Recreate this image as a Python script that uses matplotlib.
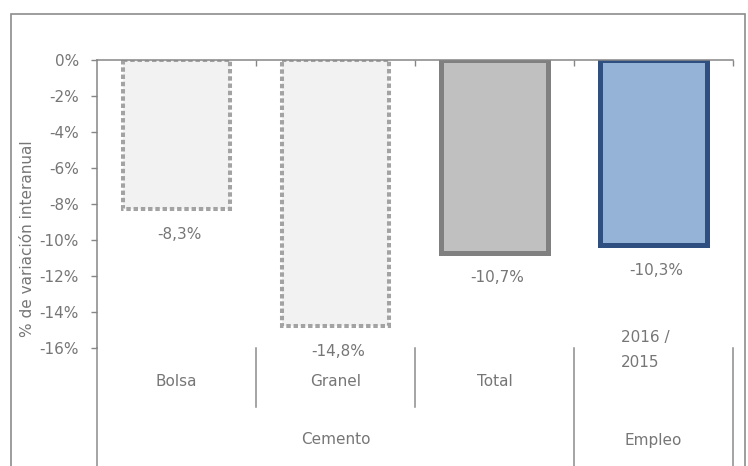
import matplotlib
matplotlib.use("Agg")
import matplotlib.pyplot as plt
from matplotlib.patches import Rectangle
from matplotlib.ticker import FuncFormatter, FixedLocator

# ---- data ----
categories = ["Bolsa", "Granel", "Total", "2016 /\n2015"]
groups = ["Cemento", "Empleo"]
group_spans = [(0, 2), (3, 3)]  # category index ranges
values = [-8.3, -14.8, -10.7, -10.3]
y_ticks = [0, -2, -4, -6, -8, -10, -12, -14, -16]
y_label = "% de variación interanual"

# ---- styles ----
TXT = "#767676"
fills = ["#f2f2f2", "#f2f2f2", "#c0c0c0", "#95b3d7"]
edges = ["#a3a3a3", "#a3a3a3", "#808080", "#2e4f80"]
styles = [(0, (1.1, 0.7)), (0, (1.1, 0.7)), "solid", "solid"]
ewidths = [2.9, 2.9, 3.6, 3.6]
FS = 11
plt.rcParams["font.family"] = ["DejaVu Sans"]

W, H = 748, 466
fig = plt.figure(figsize=(W / 100, H / 100), dpi=100)
ax_l, ax_r, ax_t, ax_b = 97, 733, 60, 348
ax = fig.add_axes([ax_l / W, 1 - ax_b / H, (ax_r - ax_l) / W, (ax_b - ax_t) / H])

x = list(range(len(values)))
bars = ax.bar(x, values, width=0.67, color=fills, zorder=2)
for b, ec, ls, lw in zip(bars, edges, styles, ewidths):
    b.set_edgecolor(ec)
    b.set_linestyle(ls)
    b.set_linewidth(lw)
    b.set_capstyle("butt")
    b.set_joinstyle("miter")

ax.set_xlim(-0.5, len(values) - 0.5)
ax.set_ylim(min(y_ticks), 0)

# value labels
for xi, v in zip(x, values):
    ax.annotate(f"{v:.1f}%".replace(".", ","), xy=(xi, v), xytext=(2, -18),
                textcoords="offset points", ha="center", va="center",
                fontsize=FS, color=TXT, annotation_clip=False)

# spines / ticks
for s in ["right", "bottom"]:
    ax.spines[s].set_visible(False)
for s in ["top", "left"]:
    ax.spines[s].set_color("#868686")
    ax.spines[s].set_linewidth(1.1)
ax.yaxis.set_major_locator(FixedLocator(y_ticks))
ax.yaxis.set_major_formatter(FuncFormatter(lambda v, p: f"{int(round(v))}%"))
ax.tick_params(axis="y", direction="out", length=4, width=1, color="#868686",
               labelsize=FS, labelcolor=TXT, pad=9)
ax.xaxis.tick_top()
ax.set_xticks([i + 0.5 for i in x])
ax.tick_params(axis="x", direction="in", length=4, width=1, color="#868686",
               labeltop=False, labelbottom=False)
ax.set_ylabel(y_label, fontsize=FS, color=TXT, labelpad=0)
ax.yaxis.set_label_coords(-0.097, 0.38)

# multi-level category axis (below)
trans = ax.get_xaxis_transform()
def ay(p):
    return (ax_b - p) / (ax_b - ax_t)

inner_y = ay(382)
for xi, c in zip(x, categories):
    if "\n" in c:
        ax.text(xi - 0.05, ay(350), c, transform=trans, ha="center", va="center",
                fontsize=FS, color=TXT, multialignment="left", linespacing=1.85)
    else:
        ax.text(xi, inner_y, c, transform=trans, ha="center", va="center",
                fontsize=FS, color=TXT)

for g, (a, b) in zip(groups, group_spans):
    ax.text((a + b) / 2, ay(440), g, transform=trans, ha="center", va="center",
            fontsize=FS, color=TXT)

line_kw = dict(transform=trans, color="#8c8c8c", lw=1.1, clip_on=False)
# inner separators between categories within a group
for a, b in group_spans:
    for i in range(a, b):
        ax.plot([i + 0.5, i + 0.5], [ay(348), ay(407)], **line_kw)
# group boundaries
bounds = [group_spans[0][0] - 0.5] + [b + 0.5 for a, b in group_spans]
for bx in bounds:
    ax.plot([bx, bx], [ay(348), ay(470)], **line_kw)

# outer chart frame
fig.add_artist(Rectangle((11 / W, -0.1), (745 - 11) / W, (H - 14) / H + 0.1,
                         transform=fig.transFigure, fill=False,
                         ec="#8c8c8c", lw=1.2))

fig.savefig("out.png", dpi=100)
